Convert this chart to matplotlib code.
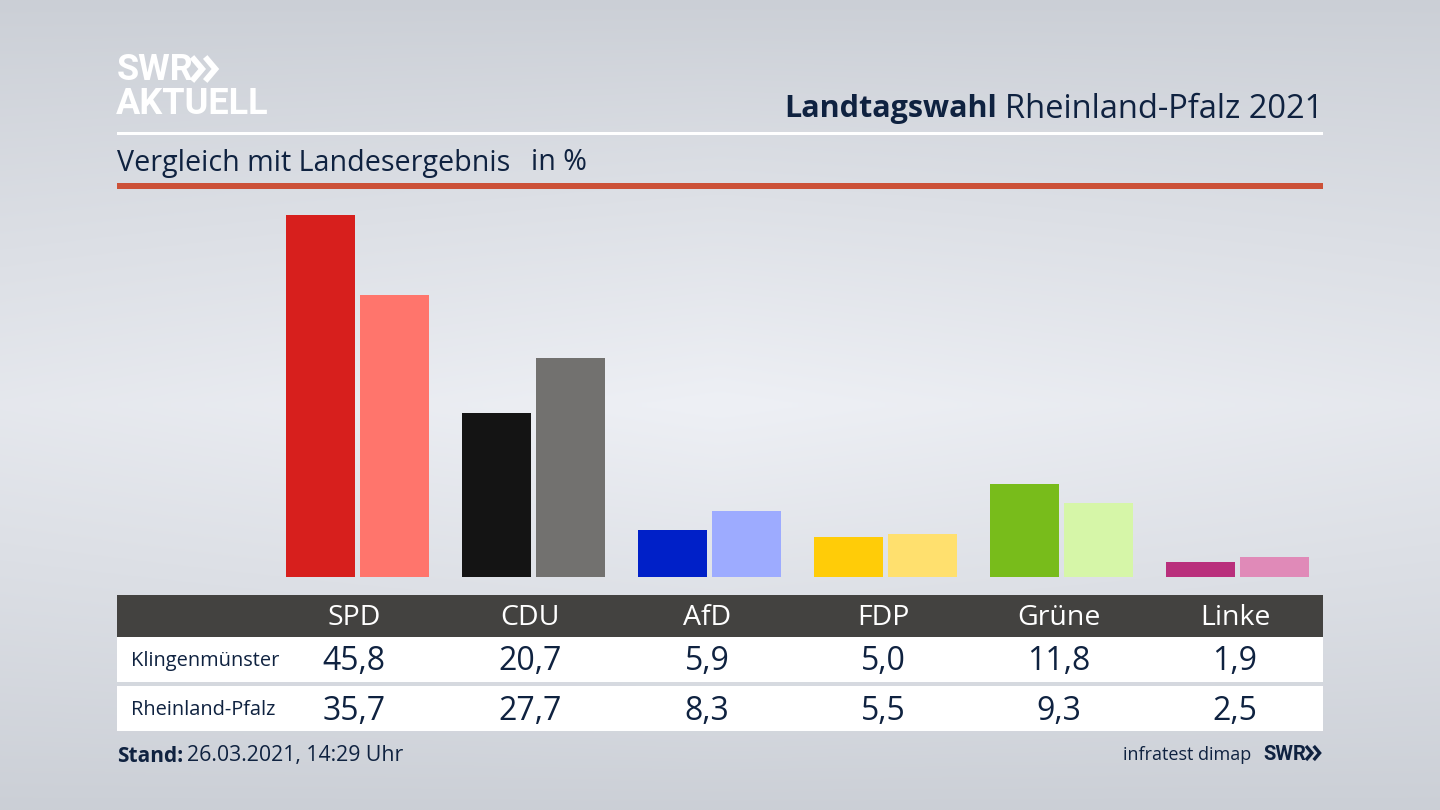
import numpy as np
from matplotlib import pyplot as plt
from matplotlib.patches import Rectangle

plt.rcParams['font.family'] = ['Open Sans', 'DejaVu Sans']

parties = ["SPD", "CDU", "AfD", "FDP", "Grüne", "Linke"]
klingenmuenster = [45.8, 20.7, 5.9, 5.0, 11.8, 1.9]
rheinland_pfalz = [35.7, 27.7, 8.3, 5.5, 9.3, 2.5]
row_names = ["Klingenmünster", "Rheinland-Pfalz"]
colors_local = ["#d71f1d", "#141414", "#0020c8", "#ffcc08", "#78bc1b", "#b92f7c"]
colors_state = ["#ff756c", "#72716f", "#9dabff", "#ffe06e", "#d6f6a8", "#e08ab8"]

NAVY = "#0f2240"
LOGO_FONT = ["Roboto", "DejaVu Sans"]
W, H = 1440, 810


def chevrons(ax, x, y, size, lw, color):
    # the two arrows of the SWR logo
    for off in (0, size * 1.1):
        ax.plot([x + off, x + off + size * 0.85, x + off],
                [y - size, y, y + size],
                color=color, lw=lw, solid_joinstyle="miter", solid_capstyle="butt", zorder=3)


fig = plt.figure(figsize=(14.4, 8.1), dpi=100)

# page in pixel coordinates, y pointing down
page = fig.add_axes([0, 0, 1, 1])
page.axis("off")

# background gradient, light band in the middle
yy = np.linspace(0, 1, 270)[:, None]
xx = np.linspace(0, 1, 480)[None, :]
shade = np.clip(1 - np.abs(yy - 0.5) / 0.5, 0, 1) ** 0.9
edge = 1 - 0.25 * np.abs(xx - 0.5) * 2
shade = shade * edge
low = np.array([203, 207, 214]) / 255
high = np.array([238, 240, 245]) / 255
bg = low + (high - low) * shade[:, :, None]
page.imshow(bg, extent=(0, W, H, 0), aspect="auto", zorder=0)
page.set_xlim(0, W)
page.set_ylim(H, 0)

# logo
page.text(117, 70, "SWR", color="white", fontsize=26, fontweight="bold",
          family=LOGO_FONT, va="center", ha="left")
chevrons(page, 192, 69, 12, 4.2, "white")
page.text(116, 104, "AKTUELL", color="white", fontsize=26, fontweight="bold",
          family=LOGO_FONT, va="center", ha="left")

# header
page.text(997, 109, "Landtagswahl", color=NAVY, fontsize=22, fontweight="bold",
          va="center", ha="right")
page.text(1323, 109, "Rheinland-Pfalz 2021", color=NAVY, fontsize=23.5, va="center", ha="right")
page.add_patch(Rectangle((117, 132), 1206, 3, color="white", lw=0))
page.text(117, 163, "Vergleich mit Landesergebnis", color=NAVY, fontsize=20.6, va="center", ha="left")
page.text(531, 163, "in %", color=NAVY, fontsize=20.6, va="center", ha="left")
page.add_patch(Rectangle((117, 183), 1206, 6, color="#cc5138", lw=0))

# bars
plot = fig.add_axes([117 / W, 1 - 577 / H, 1206 / W, (577 - 197) / H])
plot.patch.set_alpha(0)
plot.axis("off")
plot.set_xlim((117 - 357.5) / 176, (1323 - 357.5) / 176)
plot.set_ylim(0, 380 / 7.904)
x = np.arange(len(parties))
plot.bar(x - 0.21, klingenmuenster, width=0.388, color=colors_local)
plot.bar(x + 0.21, rheinland_pfalz, width=0.388, color=colors_state)

# table
page.add_patch(Rectangle((117, 595), 1206, 42, color="#434240", lw=0, zorder=2))
page.add_patch(Rectangle((117, 637), 1206, 45, color="white", lw=0, zorder=2))
page.add_patch(Rectangle((117, 686), 1206, 45, color="white", lw=0, zorder=2))
row_y = [662, 711]
col_x = [354, 530, 707, 883, 1059, 1235]
for px, name, a, b in zip(col_x, parties, klingenmuenster, rheinland_pfalz):
    page.text(px, 618, name, color="white", fontsize=20.5, ha="center", va="center", zorder=3)
    for py, val in zip(row_y, (a, b)):
        page.text(px, py, f"{val:.1f}".replace(".", ","), color=NAVY, fontsize=23,
                  ha="center", va="center", zorder=3)
for py, name in zip(row_y, row_names):
    page.text(131, py - 1, name, color=NAVY, fontsize=14.4, ha="left", va="center", zorder=3)

# footer
page.text(117, 756, "Stand:", color=NAVY, fontsize=15, fontweight="bold", ha="left", va="center")
page.text(187, 756, "26.03.2021, 14:29 Uhr", color=NAVY, fontsize=15.3, ha="left", va="center")
page.text(1251, 755, "infratest dimap", color=NAVY, fontsize=13, ha="right", va="center")
page.text(1263, 754, "SWR", color=NAVY, fontsize=14.5, fontweight="bold",
          family=LOGO_FONT, ha="left", va="center")
chevrons(page, 1306, 753, 7, 2.4, NAVY)

fig.savefig("out.png", dpi=100)
